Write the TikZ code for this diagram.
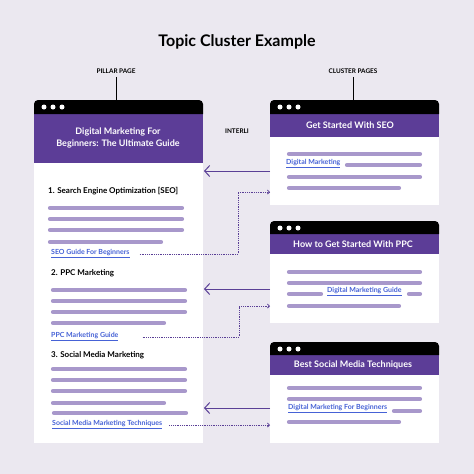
\documentclass[tikz,border=0pt]{standalone}
\usepackage{fontspec}
\setmainfont{Lato}
\usepackage{tikz}
\usetikzlibrary{arrows.meta}
\definecolor{bgcol}{HTML}{EBE8F0}
\definecolor{headcol}{HTML}{5C3D97}
\definecolor{barcol}{HTML}{A898CB}
\definecolor{linkcol}{HTML}{4662D6}
\definecolor{arrcol}{HTML}{5A3F96}

\begin{document}
\begin{tikzpicture}[
		x=1pt, y=-1pt,
		bar/.style={line width=4.2pt, line cap=round, barcol},
		tbar/.style={black},
		head/.style={headcol},
		body/.style={white},
		dotc/.style={circle,fill=white,inner sep=0pt,minimum size=5pt},
		htext/.style={white,font=\fontsize{9}{10.5}\selectfont\bfseries,align=center},
		sect/.style={anchor=west,inner sep=0pt,font=\fontsize{8}{9}\selectfont\bfseries},
		link/.style={anchor=west,inner sep=0pt,linkcol,font=\fontsize{7}{8}\selectfont\bfseries},
		tag/.style={font=\fontsize{6.4}{7}\selectfont\bfseries},
		back/.style={-{Straight Barb[length=5pt,width=11pt]},arrcol,line width=1pt},
		fwd/.style={-{Straight Barb[length=2pt,width=4pt]},arrcol,densely dotted,line width=0.8pt}]
	%% background
	\fill[bgcol] (0,0) rectangle (474,474);
	\useasboundingbox (0,0) rectangle (474,474);
	%% titles
	\node (title) at (237,42) {\fontsize{16}{18}\selectfont\bfseries Topic Cluster Example};
	\node[tag] (pillartag) at (116,71) {PILLAR PAGE};
	\node[tag] (clustertag) at (353,71) {CLUSTER PAGES};
	\node[tag] (inter) at (237,131) {INTERLI};
	\draw[line width=0.9pt] (pillartag.south) -- (116,100);
	\draw[line width=0.9pt] (clustertag.south) -- (353,100);
	%% pillar page
	\fill[body] (34,163) rectangle (203,443);
	\fill[head] (34,114) rectangle (203,163);
	\fill[tbar] (34,114) [rounded corners=4pt] -- (34,100) -- (203,100) [sharp corners] -- (203,114) -- cycle;
	\foreach \x in {44,53,62} \node[dotc] at (\x,107) {};
	\node[htext] (ptitle) at (118,138) {Digital Marketing For\\[1pt]Beginners: The Ultimate Guide};
	\node[sect] (s1) at (48,191) {1. Search Engine Optimization [SEO]};
	\foreach \y in {208,219,230} \draw[bar] (50,\y) -- (182,\y);
	\draw[bar] (50,242) -- (161,242);
	\node[link] (l1) at (51,254) {\underline{SEO Guide For Beginners}};
	\node[sect] (s2) at (51,273) {2. PPC Marketing};
	\foreach \y in {290,301,312} \draw[bar] (53,\y) -- (185,\y);
	\draw[bar] (53,323) -- (164,323);
	\node[link] (l2) at (51,337) {\underline{PPC Marketing Guide}};
	\node[sect] (s3) at (51,355) {3. Social Media Marketing};
	\foreach \y in {369,380,391} \draw[bar] (53,\y) -- (185,\y);
	\draw[bar] (53,403) -- (164,403);
	\draw[bar] (54,413) -- (186,413);
	\node[link] (l3) at (52,425) {\underline{Social Media Marketing Techniques}};
	%% cluster page 1
	\fill[body] (270,137) rectangle (439,205);
	\fill[head] (270,114) rectangle (439,137);
	\fill[tbar] (270,114) [rounded corners=4pt] -- (270,100) -- (439,100) [sharp corners] -- (439,114) -- cycle;
	\foreach \x in {280,289,298} \node[dotc] at (\x,107) {};
	\node[htext] (c1) at (350,125) {Get Started With SEO};
	\draw[bar] (289,154) -- (420,154);
	\node[link] (m1) at (286,164) {\underline{Digital Marketing}};
	\draw[bar] (347,165) -- (420,165);
	\draw[bar] (289,177) -- (420,177);
	\draw[bar] (289,188) -- (399,188);
	%% cluster page 2
	\fill[body] (270,254) rectangle (439,323);
	\fill[head] (270,234) rectangle (439,254);
	\fill[tbar] (270,234) [rounded corners=4pt] -- (270,221) -- (439,221) [sharp corners] -- (439,234) -- cycle;
	\foreach \x in {280,289,298} \node[dotc] at (\x,228) {};
	\node[htext] (c2) at (353,244) {How to Get Started With PPC};
	\draw[bar] (289,272) -- (420,272);
	\draw[bar] (289,283) -- (420,283);
	\draw[bar] (289,294) -- (321,294);
	\node[link] (m2) at (327,292) {\underline{Digital Marketing Guide}};
	\draw[bar] (409,294) -- (420,294);
	\draw[bar] (289,306) -- (399,306);
	%% cluster page 3
	\fill[body] (270,375) rectangle (439,443);
	\fill[head] (270,355) rectangle (439,375);
	\fill[tbar] (270,355) [rounded corners=4pt] -- (270,342) -- (439,342) [sharp corners] -- (439,355) -- cycle;
	\foreach \x in {280,289,298} \node[dotc] at (\x,349) {};
	\node[htext] (c3) at (353,365) {Best Social Media Techniques};
	\draw[bar] (289,388) -- (420,388);
	\draw[bar] (289,399) -- (420,399);
	\node[link] (m3) at (288,409) {\underline{Digital Marketing For Beginners}};
	\draw[bar] (394,411) -- (420,411);
	\draw[bar] (289,422) -- (399,422);
	%% define arrows
	\coordinate (a1) at (270,171); \coordinate (b1) at (204,171);
	\coordinate (a2) at (270,289); \coordinate (b2) at (204,289);
	\coordinate (a3) at (270,408); \coordinate (b3) at (204,408);
	\draw[back] (a1) -- (b1);
	\draw[back] (a2) -- (b2);
	\draw[back] (a3) -- (b3);
	\coordinate (k1) at (238,192); \coordinate (e1) at (270,192);
	\coordinate (k2) at (239,306); \coordinate (e2) at (270,306);
	\coordinate (e3) at (270,426);
	\draw[fwd] ([xshift=10pt]l1.east) -| (k1) -- (e1);
	\draw[fwd] ([xshift=24pt]l2.east) -| (k2) -- (e2);
	\draw[fwd] ([xshift=7pt]l3.east) -- (l3.east -| e3);
\end{tikzpicture}
\end{document}
